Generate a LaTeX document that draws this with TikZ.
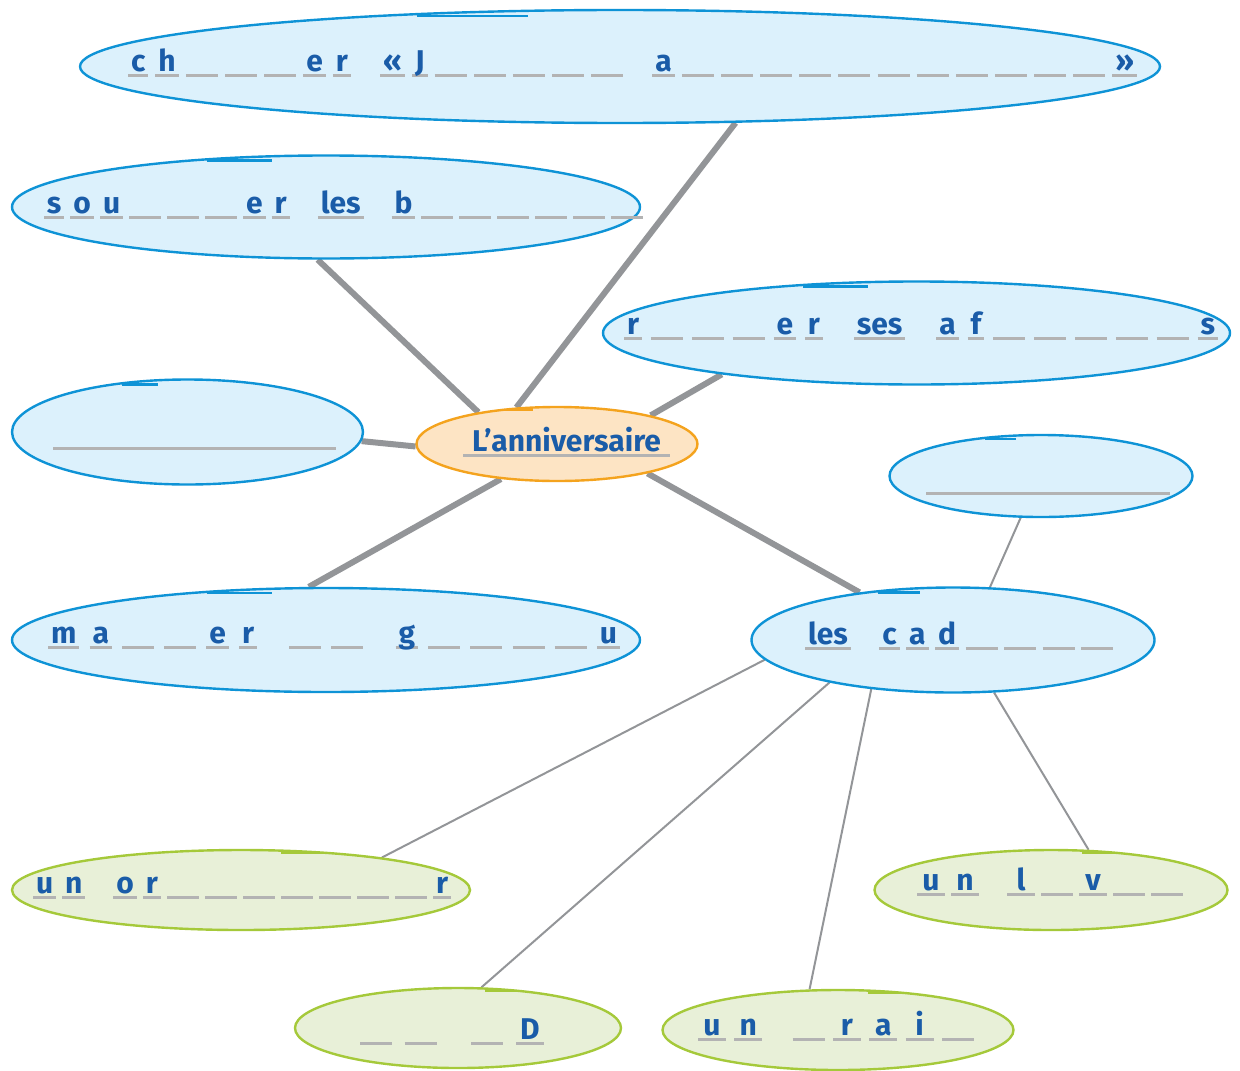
\documentclass[tikz,border=0pt]{standalone}
\usepackage{fontspec}
\setmainfont{Fira Sans}
\usetikzlibrary{shapes.geometric,backgrounds}

\definecolor{bleu}{RGB}{14,147,214}
\definecolor{bleupale}{RGB}{220,241,252}
\definecolor{vert}{RGB}{165,201,58}
\definecolor{vertpale}{RGB}{232,240,216}
\definecolor{orangevif}{RGB}{244,163,30}
\definecolor{orangepale}{RGB}{253,228,196}
\definecolor{encre}{RGB}{26,92,168}
\definecolor{trait}{RGB}{179,179,179}
\definecolor{gris}{RGB}{147,149,152}

% slots for the letters to find
\newlength\slotmin
\def\etoile{*}
\newcommand\blanc{{\color{trait}\rule[-2.5pt]{16pt}{1.5pt}}}
\newcommand\vide[1]{{\color{trait}\rule[-2.5pt]{#1pt}{1.5pt}}}
\newcommand\ltr[1]{\setbox0\hbox{#1}\dimen0=\dimexpr\wd0+3pt\relax
  \ifdim\dimen0<\slotmin\dimen0=\slotmin\fi
  \rlap{\color{trait}\rule[-2.5pt]{\dimen0}{1.5pt}}\hbox to\dimen0{\hss\box0\hss}}
\newif\ifpremier
\makeatletter
\newcommand\mot[1]{\premiertrue\@tfor\lettre:=#1\do{%
  \ifpremier\premierfalse\else\hskip3pt plus1fil\relax\fi
  \ifx\lettre\etoile\blanc\else\ltr{\lettre}\fi}}
\makeatother
\newcommand\esp{\hskip14pt plus1fil\relax}
\newcommand\ligne[3][0pt]{\slotmin=#1\relax\hbox to #2pt{#3}}
\newcommand\titre[1]{\setbox0\hbox{\hskip4.5pt#1\hskip4.5pt}%
  \rlap{\color{trait}\rule[-2.5pt]{\wd0}{1.5pt}}\box0}

\begin{document}
\begin{tikzpicture}[x=0.5pt,y=-0.5pt,
bulle/.style={draw=bleu,fill=bleupale,ellipse,line width=1.2pt,inner sep=0pt},
bullev/.style={bulle,draw=vert,fill=vertpale},
coeur/.style={bulle,draw=orangevif,fill=orangepale},
texte/.style={anchor=base,inner sep=0pt,text=encre,font=\bfseries\fontsize{15}{18}\selectfont},
branche/.style={draw=gris,line width=3pt},
brin/.style={draw=gris,line width=1pt}]
\useasboundingbox (0,0) rectangle (1240,1070);

% bubbles
\node[bulle,minimum width=540pt,minimum height=56.5pt] (chanter) at (620,66.5) {};
\node[bulle,minimum width=314pt,minimum height=51.5pt] (souffler) at (326,207) {};
\node[bulle,minimum width=313.5pt,minimum height=51.5pt] (ranger) at (916.5,333) {};
\node[bulle,minimum width=175.5pt,minimum height=52.5pt] (gauche) at (187.5,432) {};
\node[coeur,minimum width=140.5pt,minimum height=37pt] (centre) at (557,444) {};
\node[bulle,minimum width=314pt,minimum height=52pt] (manger) at (326,640) {};
\node[bulle,minimum width=151.5pt,minimum height=41pt] (droite) at (1041,476) {};
\node[bulle,minimum width=201.5pt,minimum height=52.5pt] (cadeaux) at (953,640) {};
\node[bullev,minimum width=229pt,minimum height=40pt] (ordi) at (241,890) {};
\node[bullev,minimum width=163pt,minimum height=40pt] (cd) at (458,1028) {};
\node[bullev,minimum width=175.5pt,minimum height=40pt] (train) at (838,1030) {};
\node[bullev,minimum width=176.5pt,minimum height=40pt] (livre) at (1051,890) {};

% pen overlap at the top of each bubble
\draw[bleu,line width=1.2pt] ([shift={(-203,7)}]chanter.north) -- ++(111,0);
\draw[bleu,line width=1.2pt] ([shift={(-119,6)}]souffler.north) -- ++(65,0);
\draw[bleu,line width=1.2pt] ([shift={(-114,6)}]ranger.north) -- ++(65,0);
\draw[bleu,line width=1.2pt] ([shift={(-66,6)}]gauche.north) -- ++(36,0);
\draw[orangevif,line width=1.2pt] ([shift={(-52,4)}]centre.north) -- ++(28,0);
\draw[bleu,line width=1.2pt] ([shift={(-119,6)}]manger.north) -- ++(65,0);
\draw[bleu,line width=1.2pt] ([shift={(-56,5)}]droite.north) -- ++(31,0);
\draw[bleu,line width=1.2pt] ([shift={(-75,6)}]cadeaux.north) -- ++(42,0);
\draw[vert,line width=1.2pt] ([shift={(40,4)}]ordi.north) -- ++(46,0);
\draw[vert,line width=1.2pt] ([shift={(27,4)}]cd.north) -- ++(33,0);
\draw[vert,line width=1.2pt] ([shift={(30,4)}]train.north) -- ++(36,0);
\draw[vert,line width=1.2pt] ([shift={(31,4)}]livre.north) -- ++(36,0);

% texts
\node[texte] (centre-t) at (566.5,451.5) {\titre{L’anniversaire}};
\node[texte] (chanter-t) at (632.5,72) {\ligne{504.5}{\mot{ch***er}\esp\mot{«J*****}\esp\mot{a***********»}}};
\node[texte] (souffler-t) at (340.5,213.5) {\ligne{296.5}{\mot{sou***er}\esp\ltr{les}\esp\mot{b******}}};
\node[texte] (ranger-t) at (921,334.5) {\ligne{297}{\mot{r***er}\esp\ltr{ses}\esp\mot{af*****s}}};
\node[texte] (gauche-t) at (194.5,444.5) {\vide{141.5}};
\node[texte] (manger-t) at (334,643.5) {\ligne{286}{\mot{ma**er}\esp\mot{**}\esp\mot{g****u}}};
\node[texte] (droite-t) at (1048,490) {\vide{122}};
\node[texte] (cadeaux-t) at (959,644.5) {\ligne{154}{\ltr{les}\esp\mot{cad****}}};
\node[texte] (ordi-t) at (236,893.5) {\ligne{203}{\mot{un}\esp\mot{or*******r}}};
\node[texte] (cd-t) at (452,1039.5) {\ligne[14pt]{92}{\mot{**}\esp\mot{*D}}};
\node[texte] (train-t) at (836,1035.5) {\ligne[14pt]{138}{\mot{un}\esp\mot{*rai*}}};
\node[texte] (livre-t) at (1049,890.5) {\ligne[14pt]{132}{\mot{un}\esp\mot{l*v**}}};

% links
\begin{scope}[on background layer]
\draw[branche] (centre.138) -- (chanter.-26);
\draw[branche] (centre.158) -- (souffler.-99);
\draw[branche] (centre.17) -- (ranger.-168);
\draw[branche] (centre.181) -- (gauche.-3);
\draw[branche] (centre.212) -- (manger.108);
\draw[branche] (centre.-18) -- (cadeaux.153);
\draw[brin] (cadeaux.55) -- (droite.-116);
\draw[brin] (cadeaux.186) -- (ordi.13);
\draw[brin] (cadeaux.199) -- (cd.60);
\draw[brin] (cadeaux.211) -- (train.125);
\draw[brin] (cadeaux.-52) -- (livre.47);
\end{scope}
\end{tikzpicture}
\end{document}
